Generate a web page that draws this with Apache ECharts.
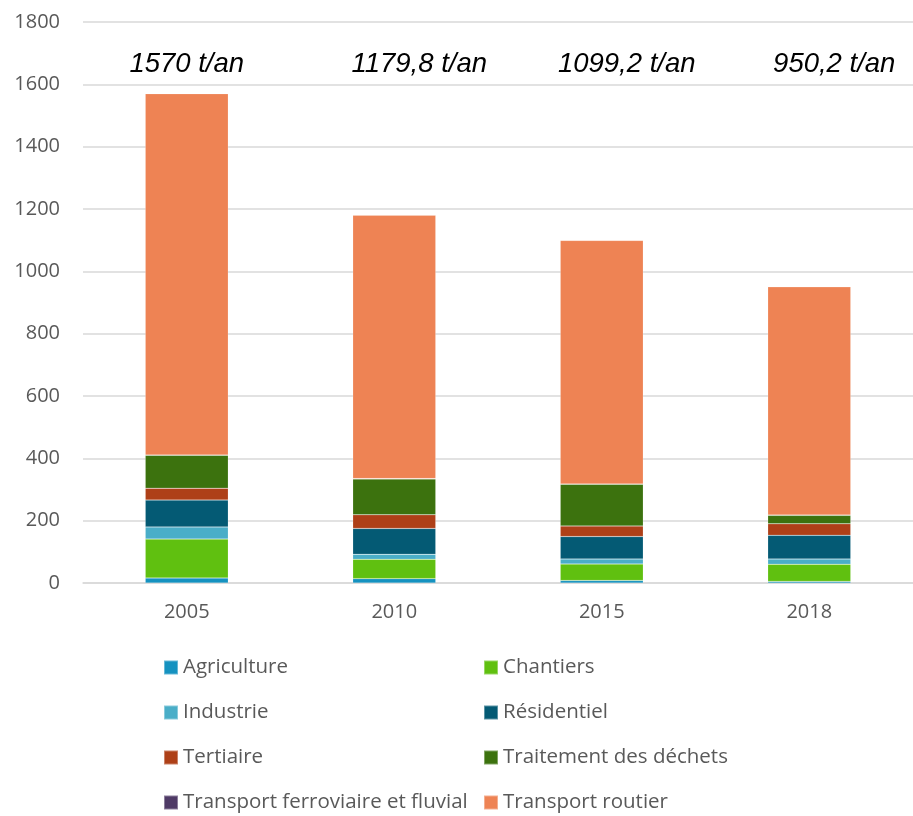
<!DOCTYPE html>
<html>
<head>
<meta charset="utf-8">
<script src="https://cdn.jsdelivr.net/npm/echarts@6/dist/echarts.min.js"></script>
<style>html,body{margin:0;padding:0;background:#fff}#c{width:913px;height:816px}</style>
</head>
<body>
<div id="c"></div>
<script>
const categories = ['2005', '2010', '2015', '2018'];
const totalLabels = ['1570 t/an', '1179,8 t/an', '1099,2 t/an', '950,2 t/an'];
const agriculture = [16, 14, 8, 5];
const chantiers = [125, 62, 53, 55];
const industrie = [39, 16, 16, 17];
const residentiel = [86, 83, 72, 76];
const tertiaire = [38, 44, 34, 37];
const traitement = [106, 115, 134, 27];
const ferroviaire = [0.5, 1, 1, 1];
const routier = [1159.5, 844.8, 781.2, 732.2];
const yTicks = { min: 0, max: 1800, interval: 200 };

const seriesDefs = [
  ['Agriculture', agriculture, '#1592c0'],
  ['Chantiers', chantiers, '#60c010'],
  ['Industrie', industrie, '#4aaec8'],
  ['Résidentiel', residentiel, '#045a74'],
  ['Tertiaire', tertiaire, '#ae4018'],
  ['Traitement des déchets', traitement, '#3c720e'],
  ['Transport ferroviaire et fluvial', ferroviaire, '#4f3a66'],
  ['Transport routier', routier, '#ee8354']
];

const font = 'Open Sans';
const legendText = { fontSize: 20.5, lineHeight: 19, color: '#595959', fontFamily: font };
const chart = echarts.init(document.getElementById('c'));
chart.setOption({
  animation: false,
  textStyle: { fontFamily: font },
  grid: { left: 83, width: 841, top: 22, bottom: 233, containLabel: false },
  legend: [
    {
      orient: 'vertical', left: 158, top: 652, height: 200, itemWidth: 14, itemHeight: 14, itemGap: 24,
      icon: 'rect', textStyle: legendText,
      data: ['Agriculture', 'Industrie', 'Tertiaire', 'Transport ferroviaire et fluvial']
    },
    {
      orient: 'vertical', left: 478, top: 652, height: 200, itemWidth: 14, itemHeight: 14, itemGap: 24,
      icon: 'rect', textStyle: legendText,
      data: ['Chantiers', 'Résidentiel', 'Traitement des déchets', 'Transport routier']
    }
  ],
  xAxis: [
    {
      type: 'category', data: categories, position: 'bottom',
      axisLine: { lineStyle: { color: '#d9d9d9', width: 1.5 } },
      axisTick: { show: false },
      axisLabel: { fontSize: 20, color: '#595959', margin: 19, fontFamily: font }
    },
    {
      type: 'category', data: totalLabels, position: 'top',
      axisLine: { show: false }, axisTick: { show: false },
      axisLabel: {
        inside: true, margin: 29, color: '#000',
        formatter: (v, i) => i === 0 ? '{a|' + v + '}' : '{b|' + v + '}',
        rich: {
          a: { fontSize: 27.5, fontStyle: 'italic', fontFamily: 'Liberation Sans', color: '#000' },
          b: { fontSize: 27.5, fontStyle: 'italic', fontFamily: 'Liberation Sans', color: '#000', padding: [0, 0, 0, 50] }
        }
      }
    }
  ],
  yAxis: {
    type: 'value', min: yTicks.min, max: yTicks.max, interval: yTicks.interval,
    axisLine: { show: false }, axisTick: { show: false },
    splitLine: { lineStyle: { color: '#d9d9d9', width: 1.5 } },
    axisLabel: { fontSize: 20, color: '#595959', margin: 23, fontFamily: font, formatter: v => String(v) }
  },
  series: seriesDefs.map(([name, data, color]) => ({
    name, type: 'bar', stack: 'total', data, barWidth: '40%',
    itemStyle: { color, borderColor: 'rgba(255,255,255,0.35)', borderWidth: 0.5 }
  }))
});
</script>
</body>
</html>
